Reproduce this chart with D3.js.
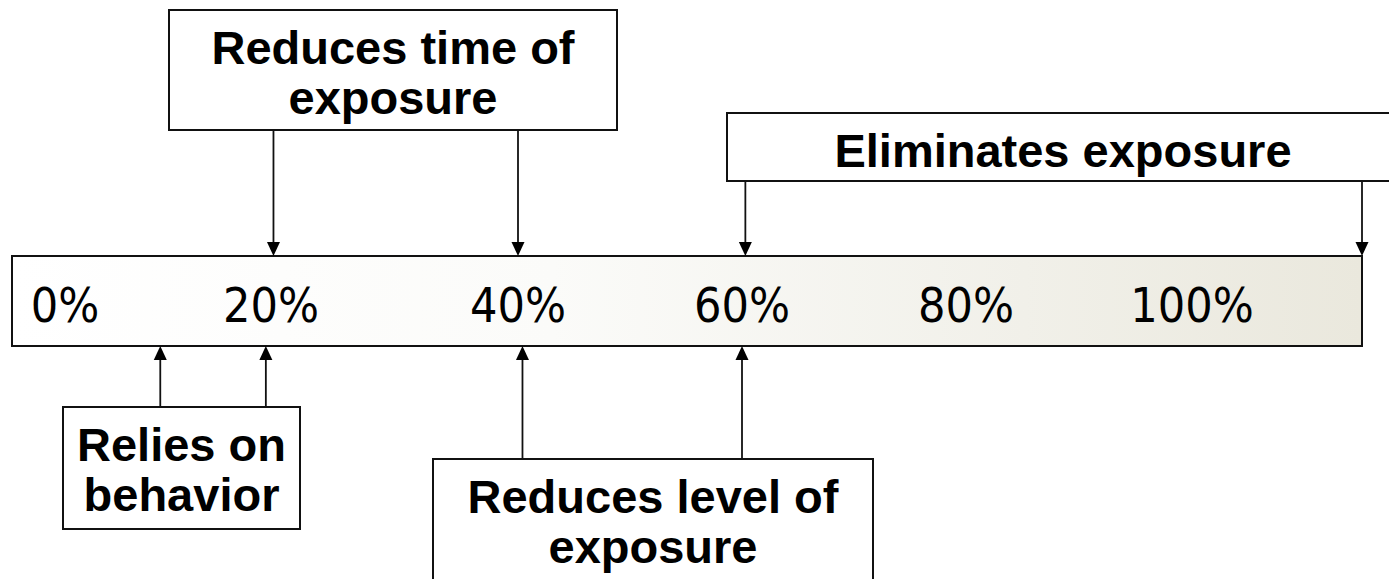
<!DOCTYPE html>
<html>
<head>
  <meta charset="UTF-8">
  <title>Exposure control scale</title>
  <style>
  body { margin:0; background:#fff; }
  svg { display:block; }
  .tick { font-family:"DejaVu Sans Condensed","DejaVu Sans",sans-serif; font-stretch:condensed; font-size:48px; fill:#000; }
  .note { font-family:"Liberation Sans",Arial,sans-serif; font-weight:bold; font-size:47px; fill:#000; }
  </style>
</head>
<body>
  <div id="chart"></div>
  <script src="https://d3js.org/d3.v7.min.js"></script>
  <script>
    // scale values (percent) and their labels
    var tickValues = [0, 20, 40, 60, 80, 100];
    var tickLabels = ["0%", "20%", "40%", "60%", "80%", "100%"];
    var barExtent = [-5, 115];

    // annotation boxes: text lines, the two values the arrows point at, side of bar
    var noteLines = [
      ["Reduces time of", "exposure"],
      ["Eliminates exposure"],
      ["Relies on", "behavior"],
      ["Reduces level of", "exposure"]
    ];
    var noteTargets = [[20.2, 40], [60.3, 115], [9.25, 19.5], [40.4, 60]];
    var noteSides = ["top", "top", "bottom", "bottom"];

    var width = 1389, height = 579;

    // the labels on the slide are not evenly spaced, so use a piecewise scale
    var x = d3.scaleLinear()
      .domain([-5, 0, 20, 40, 60, 80, 100, 115])
      .range([12, 65, 271, 518, 742, 966, 1192, 1362]);

    var bar = {top: 256, bottom: 346};
    var boxes = [
      {x0: 169, x1: 617, y0: 10, y1: 130},
      {x0: 727, x1: 1399, y0: 113, y1: 181},
      {x0: 63, x1: 300, y0: 407, y1: 529},
      {x0: 433, x1: 873, y0: 459, y1: 600}
    ];

    var svg = d3.select("#chart").append("svg")
      .attr("width", width)
      .attr("height", height);

    var grad = svg.append("defs").append("linearGradient")
      .attr("id", "barfill")
      .attr("x1", "0%").attr("x2", "100%").attr("y1", "0%").attr("y2", "0%");
    grad.append("stop").attr("offset", "0%").attr("stop-color", "#ffffff");
    grad.append("stop").attr("offset", "40%").attr("stop-color", "#fbfbf9");
    grad.append("stop").attr("offset", "75%").attr("stop-color", "#f1f0e9");
    grad.append("stop").attr("offset", "100%").attr("stop-color", "#eae8dd");

    svg.append("rect")
      .attr("x", x(barExtent[0]))
      .attr("y", bar.top)
      .attr("width", x(barExtent[1]) - x(barExtent[0]))
      .attr("height", bar.bottom - bar.top)
      .attr("fill", "url(#barfill)")
      .attr("stroke", "#111")
      .attr("stroke-width", 2);

    svg.selectAll("text.tick")
      .data(tickValues)
      .enter().append("text")
      .attr("class", "tick")
      .attr("x", function(d) { return x(d); })
      .attr("y", 322)
      .attr("text-anchor", "middle")
      .text(function(d, i) { return tickLabels[i]; });

    var notes = noteLines.map(function(lines, i) {
      return {lines: lines, targets: noteTargets[i], side: noteSides[i], box: boxes[i]};
    });

    var g = svg.selectAll("g.note")
      .data(notes)
      .enter().append("g");

    g.append("rect")
      .attr("x", function(d) { return d.box.x0; })
      .attr("y", function(d) { return d.box.y0; })
      .attr("width", function(d) { return d.box.x1 - d.box.x0; })
      .attr("height", function(d) { return d.box.y1 - d.box.y0; })
      .attr("fill", "#fff")
      .attr("stroke", "#111")
      .attr("stroke-width", 2);

    g.each(function(d) {
      var sel = d3.select(this);
      var cx = (d.box.x0 + d.box.x1) / 2;
      var t = sel.append("text")
        .attr("class", "note")
        .attr("text-anchor", "middle");
      d.lines.forEach(function(line, j) {
        t.append("tspan")
          .attr("x", cx)
          .attr("y", d.box.y0 + 54 + j * 50)
          .text(line);
      });

      // arrows from the box edge to the bar edge
      var from = d.side == "top" ? d.box.y1 : d.box.y0;
      var to = d.side == "top" ? bar.top : bar.bottom;
      var dir = d.side == "top" ? 1 : -1;
      d.targets.forEach(function(v) {
        var ax = x(v);
        sel.append("line")
          .attr("x1", ax).attr("x2", ax)
          .attr("y1", from).attr("y2", to - dir * 10)
          .attr("stroke", "#111")
          .attr("stroke-width", 1.8);
        sel.append("path")
          .attr("d", "M" + (ax - 6.5) + "," + (to - dir * 14) + "L" + (ax + 6.5) + "," + (to - dir * 14) + "L" + ax + "," + to + "Z")
          .attr("fill", "#000");
      });
    });
  </script>
</body>
</html>
